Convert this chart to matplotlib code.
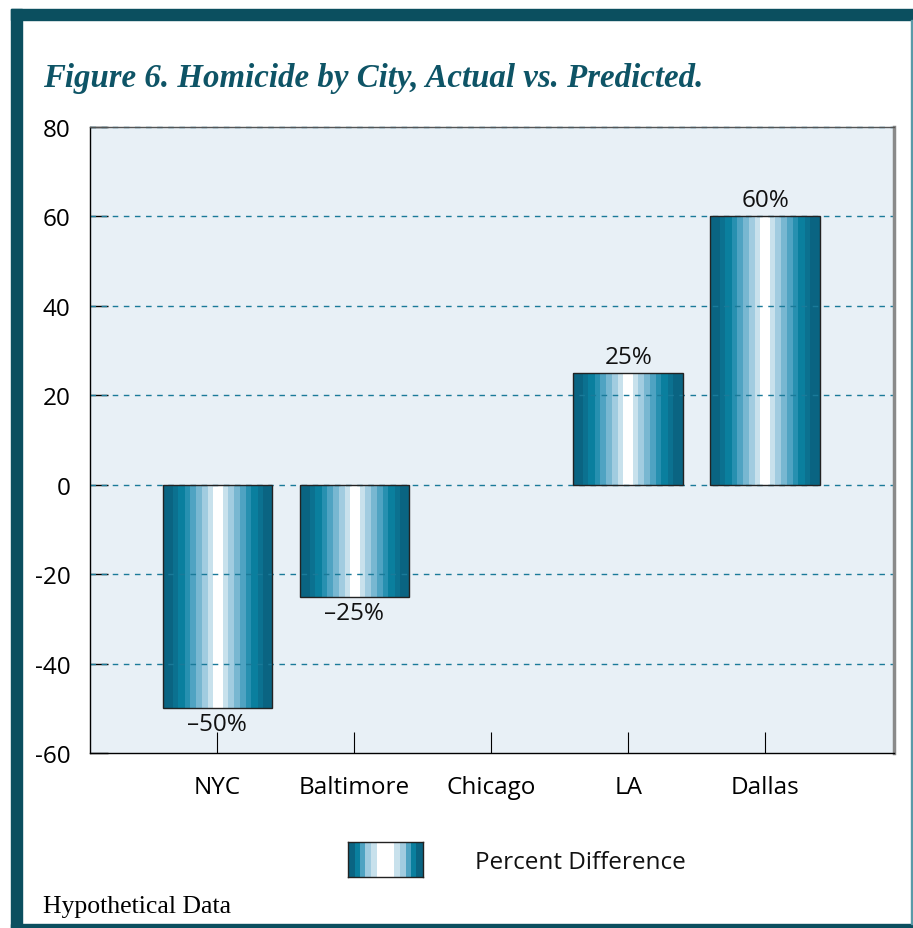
import matplotlib
matplotlib.use("Agg")
import matplotlib.pyplot as plt
import numpy as np
from matplotlib.patches import Rectangle
from matplotlib.colors import to_rgb

# ---- data ----
cities = ["NYC", "Baltimore", "Chicago", "LA", "Dallas"]
pct_diff = [-50, -25, 0, 25, 60]
value_labels = ["\u201350%", "\u201325%", "", "25%", "60%"]
y_ticks = [-60, -40, -20, 0, 20, 40, 60, 80]
legend_label = "Percent Difference"
title = "Figure 6. Homicide by City, Actual vs. Predicted."
footnote = "Hypothetical Data"

# ---- styling ----
W, H = 913, 929
DPI = 100
FRAME = "#0b4f5f"
TEAL_TEXT = "#0e5466"
AX_BG = "#e8f0f6"
GRID = "#1a7a99"
SANS = ["Open Sans", "DejaVu Sans"]
SERIF = ["Liberation Serif", "DejaVu Serif"]

half_colors = ['#0a6482', '#0b7190', '#0a7f9e', '#2790b0', '#4fa3c2', '#78b7d1', '#a1cce0', '#c8e1ec']
half_widths = [10, 5, 7, 5, 6, 6, 6, 5]
center_w = 11


def stripe_image(colors, widths, cw):
    cols = []
    for c, w in zip(colors, widths):
        cols += [to_rgb(c)] * w
    cols += [(1, 1, 1)] * cw
    for c, w in zip(reversed(colors), reversed(widths)):
        cols += [to_rgb(c)] * w
    return np.array(cols)[None, :, :]


fig = plt.figure(figsize=(W / DPI, H / DPI), dpi=DPI)
fig.patch.set_facecolor("white")


def fx(px):
    return px / W


def fy(py):
    return 1 - py / H


# frame
fig.patches.append(Rectangle((fx(11), 0), fx(11), fy(10), transform=fig.transFigure, color=FRAME, zorder=0))
fig.patches.append(Rectangle((fx(11), fy(21)), 1, fy(10) - fy(21), transform=fig.transFigure, color=FRAME, zorder=0))
fig.patches.append(Rectangle((fx(11), 0), 1, fy(925), transform=fig.transFigure, color=FRAME, zorder=0))
fig.patches.append(Rectangle((fx(911), fy(925)), fx(1.5), fy(21) - fy(925), transform=fig.transFigure, color="#5a9aa8", zorder=0))

ax = fig.add_axes([fx(90), fy(754), fx(894) - fx(90), fy(128) - fy(754)])
ax.set_facecolor(AX_BG)

x = np.arange(len(cities))
bars = ax.bar(x, pct_diff, width=0.8, color="none", edgecolor="#222222", linewidth=1.0, zorder=3)

img = stripe_image(half_colors, half_widths, center_w)
for b in bars:
    h = b.get_height()
    if h == 0:
        b.set_linewidth(0)
        continue
    y0, y1 = sorted([b.get_y(), b.get_y() + h])
    im = ax.imshow(img, extent=[b.get_x(), b.get_x() + b.get_width(), y0, y1],
                   aspect="auto", interpolation="nearest", zorder=2)
    im.set_clip_path(b)

ax.set_xlim(-0.93, 4.94)
ax.set_ylim(-60, 80)
ax.set_yticks(y_ticks)
ax.set_xticks(x)
ax.set_xticklabels(cities, fontfamily=SANS, fontsize=17.5)
ax.set_yticklabels([str(v) for v in y_ticks], fontfamily=SANS, fontsize=17.5)
ax.tick_params(axis="y", direction="in", length=13, width=1, color="black", pad=14)
ax.tick_params(axis="x", direction="in", length=15, width=0.8, color="black", pad=16)

for v in y_ticks[1:]:
    ax.axhline(v, color=GRID, linestyle=(0, (4, 4)), linewidth=1.0, zorder=2.5, clip_on=False)

ax.spines["left"].set_color("black")
ax.spines["bottom"].set_color("black")
ax.spines["left"].set_linewidth(1.0)
ax.spines["bottom"].set_linewidth(1.0)
ax.spines["right"].set_color("#8a8a8a")
ax.spines["right"].set_linewidth(2.5)
ax.spines["top"].set_color("#555555")
ax.spines["top"].set_linewidth(1.0)

for b, lab, v in zip(bars, value_labels, pct_diff):
    if not lab:
        continue
    cx = b.get_x() + b.get_width() / 2
    if v >= 0:
        ax.annotate(lab, (cx, v), xytext=(0, 3), textcoords="offset points",
                    ha="center", va="bottom", fontsize=17.5, fontfamily=SANS, color="#111111")
    else:
        ax.annotate(lab, (cx, v), xytext=(0, -3), textcoords="offset points",
                    ha="center", va="top", fontsize=17.5, fontfamily=SANS, color="#111111")

# title
fig.text(fx(43), fy(79), title, fontfamily=SERIF, fontsize=23.7, fontweight="bold",
         fontstyle="italic", color=TEAL_TEXT, ha="left", va="center")

# legend
lax = fig.add_axes([fx(348), fy(878), fx(423) - fx(348), fy(843) - fy(878)])
leg_img = stripe_image(half_colors[::2] + [half_colors[-1]], [5, 4, 4, 4, 5], 12)
lax.imshow(leg_img, aspect="auto", interpolation="nearest")
lax.set_xticks([])
lax.set_yticks([])
for s in lax.spines.values():
    s.set_color("#222222")
    s.set_linewidth(1.0)
fig.text(fx(475), fy(863), legend_label, fontfamily=SANS, fontsize=17.5, ha="left", va="center", color="#111111")

# footnote
fig.text(fx(43), fy(907), footnote, fontfamily=SERIF, fontsize=18.5, ha="left", va="center", color="black")

fig.savefig("out.png", dpi=DPI)
